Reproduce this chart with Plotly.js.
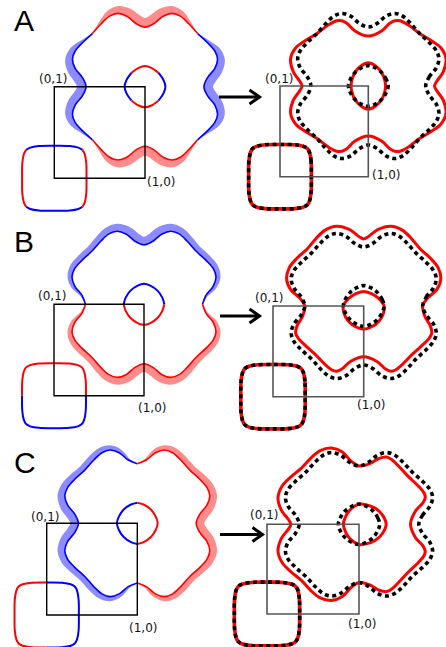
<!DOCTYPE html>
<html><head><meta charset="utf-8">
<script src="https://cdn.plot.ly/plotly-3.0.1.min.js"></script>
<style>html,body{margin:0;padding:0;background:#fff}#chart{width:446px;height:647px}</style>
</head><body><div id="chart"></div>
<script>
// ---------------- DATA (k-space units; zone box runs (0,0)-(1,1)) ----------------
// Outer wavy contour around (1,1): one quadrant, counter-clockwise from +kx
const bigQuadX = [0.65,0.69,0.77,0.80,0.77,0.69,0.58,0.48,0.39,0.30,0.20,0.10];
const bigQuadY = [0.00,0.10,0.20,0.30,0.39,0.48,0.58,0.69,0.77,0.80,0.77,0.69];
// Small pocket around (1,1)
const innerQuadX = [0.225,0.205,0.15,0.07];
const innerQuadY = [0.000,0.070,0.15,0.205];
// Pocket around (0,0)
const cornerQuadX = [0.355,0.352,0.335,0.31,0.265,0.17];
const cornerQuadY = [0.000,0.170,0.265,0.31,0.335,0.352];

// Shift of the outer contour (along the normal) for rows A, B, C
const bigShiftA = [0.10,0.098,0.09,0.08,0.06,0.03,0,-0.03,-0.06,-0.08,-0.09,-0.098,
                   -0.10,-0.098,-0.09,-0.08,-0.06,-0.03,0,0.03,0.06,0.08,0.09,0.098,
                   0.10,0.098,0.09,0.08,0.06,0.03,0,-0.03,-0.06,-0.08,-0.09,-0.098,
                   -0.10,-0.098,-0.09,-0.08,-0.06,-0.03,0,0.03,0.06,0.08,0.09,0.098];
const bigShiftB = [0,0.02,0.04,0.05,0.06,0.065,0.065,0.07,0.075,0.08,0.085,0.09,
                   0.09,0.09,0.085,0.08,0.075,0.07,0.065,0.065,0.06,0.05,0.04,0.02,
                   0,-0.02,-0.04,-0.05,-0.06,-0.065,-0.065,-0.07,-0.075,-0.08,-0.085,-0.09,
                   -0.09,-0.09,-0.085,-0.08,-0.075,-0.07,-0.065,-0.065,-0.06,-0.05,-0.04,-0.02];
const bigShiftC = [-0.09,-0.09,-0.085,-0.08,-0.075,-0.07,-0.065,-0.065,-0.06,-0.05,-0.04,-0.02,
                   0,0.02,0.04,0.05,0.06,0.065,0.065,0.07,0.075,0.08,0.085,0.09,
                   0.09,0.09,0.085,0.08,0.075,0.07,0.065,0.065,0.06,0.05,0.04,0.02,
                   0,-0.02,-0.04,-0.05,-0.06,-0.065,-0.065,-0.07,-0.075,-0.08,-0.085,-0.09];
// Shift of the small pocket for rows A, B, C
const innerShiftA = [-0.03,-0.02,0,0.02,0.03,0.02,0,-0.02,-0.03,-0.02,0,0.02,0.03,0.02,0,-0.02];
const innerShiftB = [0,-0.02,-0.045,-0.06,-0.065,-0.06,-0.045,-0.02,0,0.015,0.025,0.03,0.03,0.03,0.025,0.015];
const innerShiftC = [0.07,0.06,0.04,0.015,0,-0.015,-0.035,-0.05,-0.055,-0.05,-0.035,-0.015,0,0.015,0.04,0.06];
// Colour sign of the (0,0) pocket (+1 red, -1 blue) for rows A, B, C
const cornerSignA = [1,1,1,0,-1,-1, -1,-1,-1,0,1,1, 1,1,1,0,-1,-1, -1,-1,-1,0,1,1];
const cornerSignB = [0,1,1,1,1,1, 1,1,1,1,1,1, 0,-1,-1,-1,-1,-1, -1,-1,-1,-1,-1,-1];
const cornerSignC = [-1,-1,-1,-1,-1,-1, 0,1,1,1,1,1, 1,1,1,1,1,1, 0,-1,-1,-1,-1,-1];

const rowLetters = ['A','B','C'];
const cornerLabels = ['(0,1)','(1,0)'];

// ---------------- LAYOUT (pixel placement of each zone box) ----------------
const W = 446, H = 647;
const panels = [
  {row:0, side:'L', box:[54.3,145,86.7,178.3], lab01:[52.5,79], lab10:[161,182]},
  {row:0, side:'R', box:[280,368.3,86,176.7], lab01:[279,79], lab10:[385.5,175]},
  {row:1, side:'L', box:[54,144,304.3,395.7], lab01:[52,296], lab10:[151.5,407.5]},
  {row:1, side:'R', box:[273,363.7,306,396.7], lab01:[268.5,298.3], lab10:[370.5,405]},
  {row:2, side:'L', box:[46.7,137.3,523.3,615], lab01:[44.7,517.3], lab10:[143,628]},
  {row:2, side:'R', box:[267,359,524.3,614], lab01:[264,515], lab10:[362,624.3]}
];
const letterPos = [[12,21],[12,241],[12,462]];
const arrows = [[219,259.5,97],[220,259.5,316],[220,262.5,534.5]];

const RED = 'rgb(255,0,0)', BLUE = 'rgb(0,0,255)';
const RED_F = 'rgba(255,0,0,0.45)', BLUE_F = 'rgba(0,0,255,0.45)';

// ---------------- helpers ----------------
function fullCurve(qx, qy){
  const X=[],Y=[];
  for(let q=0;q<4;q++) for(let i=0;i<qx.length;i++){
    const x=qx[i], y=qy[i];
    if(q===0){X.push(x);Y.push(y);} else if(q===1){X.push(-y);Y.push(x);}
    else if(q===2){X.push(-x);Y.push(-y);} else {X.push(y);Y.push(-x);}
  }
  return {x:X,y:Y};
}
function normals(c){
  const N=c.x.length, nx=[], ny=[];
  for(let k=0;k<N;k++){
    const a=(k-1+N)%N, b=(k+1)%N;
    const tx=c.x[b]-c.x[a], ty=c.y[b]-c.y[a], L=Math.hypot(tx,ty);
    nx.push(ty/L); ny.push(-tx/L);
  }
  return {nx,ny};
}
function offset(c, d, useAbs){
  const n=normals(c);
  return {x:c.x.map((v,k)=>v+(useAbs?Math.abs(d[k]):d[k])*n.nx[k]),
          y:c.y.map((v,k)=>v+(useAbs?Math.abs(d[k]):d[k])*n.ny[k])};
}
function runs(s){
  const N=s.length, zeros=[];
  for(let k=0;k<N;k++) if(s[k]===0) zeros.push(k);
  const out=[];
  for(let i=0;i<zeros.length;i++){
    const z0=zeros[i], z1=zeros[(i+1)%zeros.length];
    const idx=[z0]; let k=z0;
    do { k=(k+1)%N; idx.push(k); } while(k!==z1);
    out.push({idx, sign:Math.sign(s[(z0+1)%N])});
  }
  return out;
}
function closed(c, cx, cy){
  return {x:c.x.map(v=>v+cx).concat([c.x[0]+cx]), y:c.y.map(v=>v+cy).concat([c.y[0]+cy])};
}

const big = fullCurve(bigQuadX, bigQuadY);
const inner = fullCurve(innerQuadX, innerQuadY);
const corner = fullCurve(cornerQuadX, cornerQuadY);
const bigShifts = [bigShiftA, bigShiftB, bigShiftC];
const innerShifts = [innerShiftA, innerShiftB, innerShiftC];
const cornerSigns = [cornerSignA, cornerSignB, cornerSignC];

const traces = [];
const layout = {
  width:W, height:H, margin:{l:0,r:0,t:0,b:0},
  paper_bgcolor:'#ffffff', plot_bgcolor:'rgba(0,0,0,0)',
  showlegend:false, shapes:[], annotations:[]
};

function line(ax, x, y, color, width, dash){
  traces.push({type:'scatter', mode:'lines', x, y, xaxis:ax.x, yaxis:ax.y, hoverinfo:'skip',
    line:{color, width, shape:'spline', dash:dash||'solid'}});
}

panels.forEach((p,i)=>{
  const n = i===0 ? '' : String(i+1);
  const [L,R,T,B] = p.box;
  layout['xaxis'+n] = {domain:[0,1], range:[(0-L)/(R-L),(W-L)/(R-L)], visible:false, fixedrange:true, anchor:'y'+n};
  layout['yaxis'+n] = {domain:[0,1], range:[(B-H)/(B-T), B/(B-T)], visible:false, fixedrange:true, anchor:'x'+n};
  const ax = {x:'x'+n, y:'y'+n};
  const r = p.row;
  if(p.side==='L'){
    // outer contour: hatched band + line, coloured by the sign of the shift
    const d = bigShifts[r];
    const off = offset(big, d, true);
    runs(d).forEach(run=>{
      const col = run.sign>0 ? BLUE : RED, fcol = run.sign>0 ? BLUE_F : RED_F;
      const bx = run.idx.map(k=>1+big.x[k]), by = run.idx.map(k=>1+big.y[k]);
      const inn = run.idx.slice(1,-1).reverse();
      traces.push({type:'scatter', mode:'lines', xaxis:ax.x, yaxis:ax.y, hoverinfo:'skip',
        x: bx.concat(inn.map(k=>1+off.x[k])), y: by.concat(inn.map(k=>1+off.y[k])),
        fill:'toself', fillcolor:fcol, line:{width:0, shape:'spline', color:fcol}});
      line(ax, bx, by, col, 1.6);
    });
    runs(innerShifts[r]).forEach(run=>{
      line(ax, run.idx.map(k=>1+inner.x[k]), run.idx.map(k=>1+inner.y[k]), run.sign>0?RED:BLUE, 2);
    });
    runs(cornerSigns[r]).forEach(run=>{
      line(ax, run.idx.map(k=>corner.x[k]), run.idx.map(k=>corner.y[k]), run.sign>0?RED:BLUE, 2);
    });
  } else {
    const cc = closed(corner,0,0);
    line(ax, cc.x, cc.y, RED, 3.6);
    const bs = closed(offset(big, bigShifts[r], false),1,1);
    line(ax, bs.x, bs.y, RED, 3);
    const is = closed(offset(inner, innerShifts[r], false),1,1);
    line(ax, is.x, is.y, RED, 3);
    line(ax, cc.x, cc.y, '#000', 3.6, '4px,3.5px');
    const bd = closed(big,1,1);
    line(ax, bd.x, bd.y, '#000', 3.6, '4px,3.5px');
    const id = closed(inner,1,1);
    line(ax, id.x, id.y, '#000', 3.6, '4px,3.5px');
  }
  layout.shapes.push({type:'rect', xref:ax.x, yref:ax.y, x0:0, x1:1, y0:0, y1:1, layer:'above',
    line:{color: p.side==='L' ? '#000' : 'rgb(85,85,85)', width: p.side==='L' ? 1.4 : 1.6}});
  [[cornerLabels[0],p.lab01],[cornerLabels[1],p.lab10]].forEach(([t,pos])=>{
    layout.annotations.push({xref:'paper', yref:'paper', x:pos[0]/W, y:1-pos[1]/H, text:t,
      showarrow:false, xanchor:'center', yanchor:'middle',
      font:{family:'DejaVu Sans', size:12, color:'#111'}});
  });
});

rowLetters.forEach((t,i)=>{
  layout.annotations.push({xref:'paper', yref:'paper', x:letterPos[i][0]/W, y:1-letterPos[i][1]/H,
    text:t, showarrow:false, xanchor:'left', yanchor:'middle',
    font:{family:'Liberation Sans', size:30, color:'#000'}});
});
const P = (x,y)=> (x/W)+','+(1-y/H);
arrows.forEach(([x0,x1,y])=>{
  layout.shapes.push({type:'path', xref:'paper', yref:'paper', layer:'above',
    path:'M'+P(x0,y)+' L'+P(x1-1,y), line:{color:'#000', width:3}});
  layout.shapes.push({type:'path', xref:'paper', yref:'paper', layer:'above',
    path:'M'+P(x1-10,y-7)+' L'+P(x1,y)+' L'+P(x1-10,y+7), line:{color:'#000', width:3}});
});

Plotly.newPlot('chart', traces, layout, {staticPlot:true, displayModeBar:false});
</script>
</body></html>
